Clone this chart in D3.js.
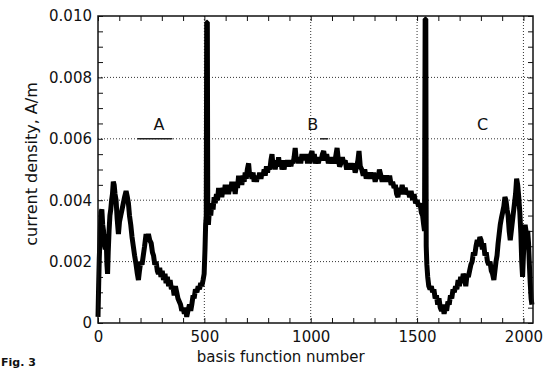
<!DOCTYPE html>
<html>
<head>
<meta charset="utf-8">
<script src="https://cdn.jsdelivr.net/npm/d3@7"></script>
<style>
  body { margin: 0; background: #fff; }
  svg { display: block; }
</style>
</head>
<body>
<div id="chart"></div>
<script>
// region A: 0..519 (incl. first edge spike)
const basisA = [0, 3, 6, 10, 14, 18, 22, 26, 30, 34, 38, 42, 45, 48, 52, 56, 60, 64, 68, 72, 76, 80, 85, 90, 96,
  101, 107, 113, 119, 125, 132, 138, 143, 148, 154, 160, 166, 172, 179, 185, 190, 195, 201, 207, 213, 219, 226,
  232, 237, 243, 250, 256, 261, 267, 273, 279, 284, 290, 296, 302, 308, 315, 320, 326, 332, 339, 345, 352, 358,
  364, 370, 376, 382, 388, 394, 400, 406, 412, 417, 423, 430, 436, 441, 447, 452, 458, 465, 471, 477, 483, 488,
  494, 499, 503, 506, 509, 511, 514, 516, 519]
const densityA = [0.0002, 0.0012, 0.0021, 0.0029, 0.0036, 0.0037, 0.0032, 0.0030, 0.0026, 0.0024, 0.0029, 0.0019,
  0.0016, 0.0023, 0.0030, 0.0035, 0.0037, 0.0040, 0.0042, 0.0046, 0.0045, 0.0042, 0.0040, 0.0034, 0.0029,
  0.0033, 0.0035, 0.0037, 0.0039, 0.0041, 0.0043, 0.0041, 0.0039, 0.0035, 0.0032, 0.0028, 0.0025, 0.0022, 0.0019,
  0.0016, 0.0014, 0.0017, 0.0020, 0.0019, 0.0022, 0.0025, 0.0029, 0.0027, 0.0029, 0.0027, 0.0026, 0.0023, 0.0022,
  0.0019, 0.0020, 0.0017, 0.0016, 0.0018, 0.0015, 0.0017, 0.0014, 0.0016, 0.0013, 0.0015, 0.0012, 0.0014, 0.0011,
  0.0012, 0.0009, 0.0012, 0.0010, 0.0008, 0.0007, 0.0006, 0.0004, 0.0005, 0.0003, 0.0005, 0.0002, 0.0004, 0.0006,
  0.0004, 0.0006, 0.0009, 0.0008, 0.0011, 0.0010, 0.0012, 0.0011, 0.0013, 0.0012, 0.0014, 0.0016, 0.0024, 0.0032,
  0.0035, 0.0098, 0.0098, 0.0036, 0.0032]

// region B: 524..1535
const basisB = [524, 530, 535, 541, 546, 551, 557, 562, 567, 572, 577, 582, 588, 593, 598, 604, 609, 614, 620, 625,
  629, 635, 640, 645, 651, 656, 661, 666, 671, 676, 682, 687, 692, 697, 702, 708, 713, 718, 724, 729, 734, 739, 745,
  750, 755, 760, 766, 771, 776, 781, 786, 792, 797, 802, 808, 813, 818, 823, 828, 833, 839, 844, 849, 854, 860, 865,
  870, 875, 880, 886, 891, 896, 902, 907, 912, 917, 922, 927, 932, 938, 943, 948, 953, 959, 964, 969, 975, 980, 985,
  990, 996, 1001, 1006, 1011, 1017, 1022, 1029, 1036, 1042, 1049, 1055, 1061, 1068, 1075, 1083, 1090, 1097, 1104,
  1110, 1117, 1124, 1130, 1136, 1142, 1149, 1155, 1162, 1169, 1176, 1183, 1190, 1196, 1202, 1209, 1216, 1222, 1227,
  1233, 1240, 1247, 1254, 1261, 1268, 1275, 1282, 1289, 1296, 1303, 1310, 1317, 1323, 1330, 1336, 1343, 1350, 1357,
  1364, 1371, 1378, 1385, 1392, 1398, 1404, 1410, 1416, 1423, 1430, 1437, 1444, 1451, 1458, 1465, 1472, 1479, 1486,
  1493, 1500, 1507, 1514, 1520, 1526, 1531, 1535]
const densityB = [0.0037, 0.0035, 0.0039, 0.0037, 0.0041, 0.0039, 0.0042, 0.0040, 0.0044, 0.0041, 0.0043, 0.0041,
  0.0044, 0.0042, 0.0045, 0.0042, 0.0044, 0.0042, 0.0045, 0.0043, 0.0046, 0.0043, 0.0045, 0.0042, 0.0046, 0.0044,
  0.0048, 0.0045, 0.0047, 0.0045, 0.0048, 0.0046, 0.0049, 0.0047, 0.0050, 0.0052, 0.0048, 0.0049, 0.0047, 0.0049,
  0.0046, 0.0048, 0.0046, 0.0048, 0.0047, 0.0049, 0.0047, 0.0049, 0.0048, 0.0050, 0.0048, 0.0051, 0.0049, 0.0051,
  0.0050, 0.0053, 0.0055, 0.0051, 0.0053, 0.0050, 0.0053, 0.0051, 0.0054, 0.0051, 0.0053, 0.0050, 0.0052, 0.0050,
  0.0053, 0.0051, 0.0053, 0.0051, 0.0053, 0.0051, 0.0053, 0.0052, 0.0054, 0.0057, 0.0053, 0.0054, 0.0052, 0.0054,
  0.0052, 0.0055, 0.0053, 0.0055, 0.0053, 0.0055, 0.0052, 0.0054, 0.0052, 0.0055, 0.0056, 0.0053, 0.0055, 0.0052,
  0.0054, 0.0052, 0.0054, 0.0053, 0.0055, 0.0056, 0.0053, 0.0055, 0.0052, 0.0054, 0.0052, 0.0054, 0.0052, 0.0054,
  0.0057, 0.0053, 0.0051, 0.0052, 0.0054, 0.0052, 0.0053, 0.0050, 0.0052, 0.0050, 0.0052, 0.0050, 0.0052, 0.0049,
  0.0051, 0.0053, 0.0056, 0.0051, 0.0050, 0.0048, 0.0050, 0.0047, 0.0049, 0.0047, 0.0049, 0.0047, 0.0049, 0.0046,
  0.0048, 0.0047, 0.0050, 0.0048, 0.0046, 0.0048, 0.0046, 0.0048, 0.0046, 0.0048, 0.0045, 0.0046, 0.0044, 0.0045,
  0.0042, 0.0041, 0.0044, 0.0042, 0.0045, 0.0042, 0.0044, 0.0042, 0.0043, 0.0041, 0.0043, 0.0040, 0.0042, 0.0039,
  0.0040, 0.0038, 0.0039, 0.0036, 0.0035, 0.0032, 0.0030]

// region C: 1538..2040 (incl. second edge spike)
const basisC = [1538, 1541, 1543, 1546, 1550, 1555, 1561, 1567, 1573, 1579, 1585, 1591, 1597, 1603, 1609, 1615,
  1621, 1627, 1633, 1639, 1645, 1651, 1657, 1663, 1669, 1675, 1681, 1687, 1693, 1699, 1705, 1711, 1717, 1723, 1729,
  1735, 1741, 1747, 1753, 1759, 1765, 1771, 1777, 1783, 1789, 1795, 1801, 1807, 1813, 1819, 1825, 1831, 1837, 1843,
  1849, 1855, 1861, 1866, 1871, 1876, 1881, 1886, 1891, 1896, 1902, 1908, 1913, 1918, 1923, 1928, 1933, 1938, 1943,
  1948, 1953, 1958, 1963, 1968, 1973, 1978, 1983, 1988, 1992, 1996, 2000, 2004, 2008, 2012, 2016, 2020, 2024, 2028,
  2032, 2036, 2040]
const densityC = [0.0099, 0.0099, 0.0025, 0.0019, 0.0015, 0.0012, 0.0011, 0.0012, 0.0010, 0.0011, 0.0008, 0.0009,
  0.0006, 0.0008, 0.0005, 0.0004, 0.0006, 0.0003, 0.0005, 0.0004, 0.0007, 0.0006, 0.0009, 0.0008, 0.0011, 0.0010,
  0.0012, 0.0011, 0.0014, 0.0012, 0.0015, 0.0013, 0.0016, 0.0015, 0.0012, 0.0016, 0.0015, 0.0017, 0.0019, 0.0020,
  0.0023, 0.0022, 0.0025, 0.0027, 0.0025, 0.0028, 0.0027, 0.0024, 0.0026, 0.0022, 0.0023, 0.0020, 0.0019, 0.0020,
  0.0017, 0.0016, 0.0014, 0.0017, 0.0020, 0.0022, 0.0026, 0.0029, 0.0032, 0.0034, 0.0036, 0.0038, 0.0041, 0.0040,
  0.0037, 0.0035, 0.0030, 0.0027, 0.0030, 0.0033, 0.0036, 0.0039, 0.0042, 0.0047, 0.0045, 0.0041, 0.0036, 0.0029,
  0.0020, 0.0015, 0.0022, 0.0028, 0.0032, 0.0030, 0.0024, 0.0030, 0.0026, 0.0019, 0.0013, 0.0008, 0.0006]

// ticks
const xTicks = [0, 500, 1000, 1500, 2000]
const xTickLabels = ['0', '500', '1000', '1500', '2000']
const yTicks = [0, 0.002, 0.004, 0.006, 0.008, 0.010]
const yTickLabels = ['0', '0.002', '0.004', '0.006', '0.008', '0.010']

// region labels (basis number position)
const regionNames = ['A', 'B', 'C']
const regionCenters = [287, 1009, 1808]

const width = 550
const height = 369
const margin = { top: 16, right: 17, bottom: 46, left: 98 }
const plotW = width - margin.left - margin.right
const plotH = height - margin.top - margin.bottom
const font = 'DejaVu Sans, sans-serif'

const svg = d3.select('#chart')
  .append('svg')
  .attr('width', width)
  .attr('height', height)

svg.append('rect').attr('width', width).attr('height', height).attr('fill', '#fff')

const x = d3.scaleLinear().domain([0, 2045]).range([0, plotW])
const y = d3.scaleLinear().domain([0, 0.010]).range([plotH, 0])

const g = svg.append('g').attr('transform', `translate(${margin.left},${margin.top})`)

// dotted grid
g.append('g')
  .selectAll('line')
  .data(xTicks.slice(1))
  .join('line')
  .attr('x1', d => x(d)).attr('x2', d => x(d))
  .attr('y1', 0).attr('y2', plotH)
  .attr('stroke', '#333').attr('stroke-width', 1)
  .attr('stroke-dasharray', '1,2')
g.append('g')
  .selectAll('line')
  .data(yTicks.slice(1, -1))
  .join('line')
  .attr('x1', 0).attr('x2', plotW)
  .attr('y1', d => y(d)).attr('y2', d => y(d))
  .attr('stroke', '#333').attr('stroke-width', 1)
  .attr('stroke-dasharray', '1,2')

// minor ticks every 100 / 0.0005, inward on all four sides
const xMinor = d3.range(0, 2001, 100)
const yMinor = d3.range(0, 21).map(i => i * 0.0005)

const xAxis = d3.axisBottom(x).tickValues(xMinor).tickSize(-5).tickPadding(8)
  .tickFormat(d => { const i = xTicks.indexOf(d); return i >= 0 ? xTickLabels[i] : '' })
const yAxis = d3.axisLeft(y).tickValues(yMinor).tickSize(-5).tickPadding(6)
  .tickFormat((d, i) => i % 4 === 0 ? yTickLabels[i / 4] : '')

const gx = g.append('g').attr('transform', `translate(0,${plotH})`).call(xAxis)
const gy = g.append('g').call(yAxis)
const gt = g.append('g').call(d3.axisTop(x).tickValues(xMinor).tickSize(-5).tickFormat(''))
const gr = g.append('g').attr('transform', `translate(${plotW},0)`).call(d3.axisRight(y).tickValues(yMinor).tickSize(-5).tickFormat(''))

;[gx, gy, gt, gr].forEach(a => {
  a.select('.domain').remove()
  a.selectAll('.tick line').attr('stroke', '#111').attr('stroke-width', 1)
  a.selectAll('text').attr('font-family', font).attr('font-size', 15).attr('fill', '#111')
})

// curve
const pts = basisA.map((b, i) => [b, densityA[i]])
  .concat(basisB.map((b, i) => [b, densityB[i]]))
  .concat(basisC.map((b, i) => [b, densityC[i]]))

const line = d3.line().x(d => x(d[0])).y(d => y(d[1]))
g.append('path')
  .datum(pts)
  .attr('d', line)
  .attr('fill', 'none')
  .attr('stroke', '#000')
  .attr('stroke-width', 5)
  .attr('stroke-linejoin', 'bevel')

// frame
g.append('rect')
  .attr('width', plotW).attr('height', plotH)
  .attr('fill', 'none').attr('stroke', '#111').attr('stroke-width', 1.5)

// region letters
g.append('g')
  .selectAll('text')
  .data(regionNames)
  .join('text')
  .attr('x', (d, i) => x(regionCenters[i]))
  .attr('y', y(0.006) - 9)
  .attr('text-anchor', 'middle')
  .attr('font-family', font)
  .attr('font-size', 16)
  .attr('fill', '#111')
  .text(d => d)

// short marks under A and B
g.append('line')
  .attr('x1', x(185)).attr('x2', x(350))
  .attr('y1', y(0.006)).attr('y2', y(0.006))
  .attr('stroke', '#222').attr('stroke-width', 1.5)
g.append('line')
  .attr('x1', x(1044)).attr('x2', x(1082))
  .attr('y1', y(0.006)).attr('y2', y(0.006))
  .attr('stroke', '#222').attr('stroke-width', 1.5)

// axis titles
svg.append('text')
  .attr('x', margin.left + x(1000) - 30)
  .attr('y', 362)
  .attr('text-anchor', 'middle')
  .attr('font-family', font)
  .attr('font-size', 15)
  .attr('fill', '#111')
  .text('basis function number')

svg.append('text')
  .attr('transform', 'translate(37,164) rotate(-90)')
  .attr('text-anchor', 'middle')
  .attr('font-family', font)
  .attr('font-size', 16)
  .attr('fill', '#111')
  .text('current density, A/m')

// caption at the bottom-left corner
svg.append('text')
  .attr('x', 1)
  .attr('y', 366)
  .attr('font-family', font)
  .attr('font-size', 11)
  .attr('font-weight', 'bold')
  .attr('fill', '#111')
  .text('Fig. 3')
</script>
</body>
</html>
